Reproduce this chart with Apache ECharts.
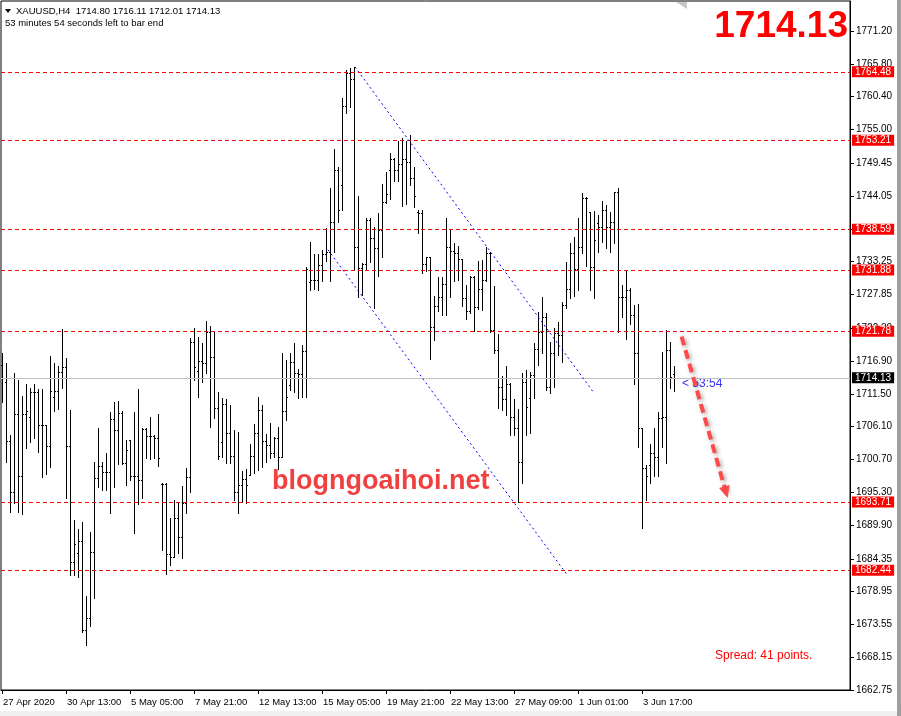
<!DOCTYPE html>
<html>
<head>
<meta charset="utf-8">
<title>XAUUSD H4</title>
<script src="https://cdn.jsdelivr.net/npm/echarts@6/dist/echarts.min.js"></script>
<style>
  html, body { margin: 0; padding: 0; background: #fff; }
  #chart { width: 901px; height: 716px; }
</style>
</head>
<body>
<div id="chart"></div>
<script>
// XAUUSD H4 bars, index 0 = 27 Apr 2020, last bar = 4 Jun 2020
const barOpen = [
  1716.2, 1713.4, 1703.7, 1695.3, 1708.2, 1698.0, 1708.2, 1707.7, 1711.8, 1711.8,
  1706.4, 1706.4, 1702.9, 1711.0, 1712.0, 1715.1, 1715.9, 1702.9, 1683.8, 1685.3,
  1687.3, 1672.6, 1674.6, 1685.5, 1697.6, 1699.6, 1698.6, 1698.6, 1707.3, 1705.5,
  1708.3, 1700.1, 1703.9, 1698.0, 1698.0, 1697.3, 1705.7, 1704.5, 1704.5, 1704.2,
  1696.6, 1696.6, 1685.1, 1684.6, 1691.1, 1687.9, 1693.5, 1697.8, 1720.0, 1715.2,
  1716.9, 1716.6, 1721.7, 1717.5, 1709.2, 1703.6, 1709.8, 1705.0, 1701.3, 1695.3,
  1696.5, 1697.5, 1698.1, 1701.3, 1705.0, 1708.8, 1703.7, 1703.1, 1701.7, 1704.2,
  1701.1, 1708.7, 1712.9, 1716.7, 1714.9, 1714.7, 1718.5, 1729.9, 1730.2, 1730.2,
  1732.7, 1734.5, 1734.8, 1739.8, 1748.3, 1745.9, 1758.9, 1764.3, 1763.3, 1735.6,
  1732.2, 1732.9, 1740.1, 1737.1, 1735.5, 1738.4, 1743.1, 1748.3, 1750.1, 1748.3,
  1749.3, 1750.1, 1749.6, 1747.0, 1741.4, 1741.2, 1732.9, 1734.0, 1722.5, 1725.9,
  1727.4, 1729.6, 1735.6, 1735.0, 1734.7, 1733.7, 1727.3, 1725.1, 1730.7, 1725.8,
  1728.7, 1730.2, 1734.7, 1722.0, 1718.7, 1712.6, 1710.6, 1713.1, 1707.7, 1705.9,
  1700.3, 1713.4, 1710.8, 1714.6, 1718.9, 1721.7, 1724.1, 1712.6, 1718.2, 1721.5,
  1721.2, 1726.1, 1728.7, 1734.7, 1732.0, 1735.6, 1743.7, 1741.4, 1732.4, 1739.6,
  1738.9, 1741.7, 1738.9, 1739.8, 1744.7, 1727.4, 1727.4, 1728.6, 1724.5, 1718.2,
  1705.9, 1699.3, 1699.8, 1701.7, 1701.1, 1707.5, 1707.7, 1718.7, 1714.80
];
const barHigh = [
  1718.2, 1716.6, 1704.7, 1714.9, 1713.8, 1711.1, 1713.1, 1712.5, 1713.1, 1712.3,
  1712.3, 1706.4, 1717.7, 1716.6, 1716.1, 1722.2, 1717.4, 1708.8, 1690.7, 1689.2,
  1690.4, 1678.2, 1688.7, 1700.3, 1705.9, 1700.3, 1701.7, 1708.5, 1710.1, 1710.3,
  1708.7, 1703.9, 1703.9, 1708.5, 1712.3, 1705.9, 1705.9, 1707.7, 1704.7, 1708.2,
  1696.8, 1696.8, 1691.1, 1694.0, 1693.7, 1696.3, 1699.3, 1720.7, 1722.3, 1720.8,
  1719.9, 1723.5, 1722.6, 1721.7, 1711.8, 1710.8, 1710.6, 1709.6, 1705.5, 1705.2,
  1698.8, 1699.1, 1703.2, 1706.5, 1711.0, 1709.6, 1704.9, 1706.7, 1704.4, 1706.0,
  1718.2, 1717.1, 1718.2, 1719.9, 1715.6, 1719.5, 1732.4, 1736.5, 1734.5, 1734.5,
  1735.2, 1738.8, 1745.4, 1751.8, 1748.8, 1760.2, 1764.8, 1765.1, 1765.3, 1744.0,
  1733.0, 1740.4, 1740.4, 1738.9, 1741.2, 1746.0, 1748.0, 1751.1, 1750.3, 1753.1,
  1753.6, 1753.1, 1754.1, 1748.8, 1741.7, 1741.7, 1734.0, 1734.0, 1727.6, 1730.7,
  1730.7, 1740.4, 1738.4, 1736.3, 1735.8, 1733.7, 1729.4, 1730.9, 1730.9, 1733.3,
  1733.5, 1735.6, 1734.8, 1729.2, 1721.3, 1714.4, 1716.1, 1713.3, 1710.6, 1709.0,
  1714.9, 1715.4, 1715.1, 1719.9, 1725.0, 1727.4, 1724.8, 1720.0, 1722.3, 1723.3,
  1726.6, 1733.2, 1736.3, 1737.3, 1740.4, 1744.5, 1743.9, 1741.4, 1741.6, 1740.9,
  1743.2, 1742.6, 1741.4, 1744.7, 1745.4, 1729.4, 1731.9, 1728.9, 1726.1, 1726.3,
  1705.9, 1699.8, 1703.2, 1705.9, 1708.5, 1718.4, 1722.0, 1720.0, 1716.11
];
const barLow = [
  1710.1, 1700.3, 1692.0, 1693.5, 1692.0, 1691.7, 1702.6, 1703.6, 1704.2, 1701.9,
  1697.8, 1698.3, 1699.4, 1708.7, 1709.0, 1712.5, 1694.3, 1681.7, 1681.7, 1681.4,
  1672.3, 1670.2, 1673.3, 1677.9, 1696.2, 1695.7, 1695.7, 1691.9, 1696.2, 1699.9,
  1699.9, 1696.5, 1697.3, 1688.6, 1693.4, 1694.3, 1700.9, 1700.8, 1700.9, 1699.6,
  1685.8, 1681.8, 1683.3, 1684.6, 1685.3, 1684.5, 1691.9, 1695.3, 1713.8, 1711.0,
  1713.4, 1714.9, 1706.0, 1707.5, 1700.8, 1701.1, 1700.1, 1700.1, 1694.0, 1691.9,
  1693.7, 1693.5, 1698.1, 1698.5, 1699.0, 1699.4, 1700.3, 1700.9, 1701.1, 1699.1,
  1701.1, 1707.2, 1712.1, 1711.8, 1710.8, 1711.0, 1711.0, 1728.6, 1728.7, 1728.6,
  1730.1, 1733.3, 1730.1, 1734.8, 1739.8, 1741.7, 1757.7, 1758.7, 1731.9, 1727.4,
  1727.7, 1731.9, 1733.2, 1725.6, 1730.9, 1734.0, 1742.9, 1743.6, 1746.5, 1746.5,
  1742.4, 1742.7, 1745.9, 1742.2, 1738.0, 1731.4, 1731.7, 1717.2, 1720.3, 1725.1,
  1724.5, 1724.5, 1727.4, 1730.1, 1730.2, 1725.9, 1723.8, 1724.8, 1721.8, 1725.4,
  1725.3, 1730.1, 1721.7, 1718.2, 1709.2, 1708.8, 1708.0, 1704.7, 1704.7, 1693.7,
  1696.8, 1704.7, 1705.0, 1710.8, 1716.2, 1718.2, 1712.1, 1711.6, 1712.6, 1717.9,
  1716.7, 1725.6, 1727.3, 1727.6, 1728.6, 1734.7, 1732.5, 1728.6, 1727.3, 1734.8,
  1736.5, 1735.5, 1734.8, 1736.3, 1721.7, 1724.1, 1720.5, 1723.0, 1713.1, 1702.7,
  1689.4, 1694.0, 1696.8, 1698.0, 1698.0, 1702.7, 1700.1, 1712.5, 1712.01
];
const barClose = [
  1714.1, 1703.7, 1695.3, 1708.2, 1698.0, 1708.2, 1708.7, 1711.8, 1711.8, 1706.4,
  1706.4, 1702.9, 1712.0, 1712.0, 1715.1, 1715.9, 1702.9, 1683.8, 1686.8, 1687.3,
  1672.6, 1674.6, 1685.5, 1697.6, 1699.6, 1698.6, 1698.6, 1707.3, 1705.5, 1708.3,
  1700.1, 1702.2, 1698.0, 1698.0, 1697.3, 1705.7, 1704.5, 1704.5, 1704.2, 1700.9,
  1696.6, 1685.1, 1684.6, 1691.1, 1687.9, 1693.5, 1697.8, 1720.0, 1715.9, 1716.9,
  1716.6, 1721.7, 1717.5, 1709.2, 1701.3, 1709.8, 1705.0, 1701.3, 1695.3, 1696.5,
  1697.5, 1696.5, 1701.3, 1705.0, 1708.8, 1703.7, 1703.1, 1701.7, 1704.2, 1701.1,
  1708.7, 1711.0, 1716.7, 1714.9, 1714.7, 1718.5, 1732.0, 1730.2, 1730.2, 1732.7,
  1734.5, 1734.8, 1739.8, 1748.3, 1741.7, 1758.9, 1764.3, 1763.3, 1735.6, 1732.2,
  1732.9, 1740.1, 1737.1, 1735.5, 1738.4, 1743.1, 1744.4, 1750.1, 1748.3, 1749.3,
  1750.1, 1749.6, 1747.0, 1744.0, 1741.2, 1732.9, 1734.0, 1722.5, 1725.9, 1727.4,
  1729.6, 1735.6, 1735.0, 1734.7, 1733.7, 1727.3, 1725.1, 1730.7, 1725.8, 1728.7,
  1730.2, 1734.7, 1722.0, 1718.7, 1712.6, 1710.6, 1713.1, 1707.7, 1705.9, 1700.3,
  1713.4, 1709.3, 1714.6, 1718.9, 1721.7, 1724.1, 1712.6, 1718.2, 1721.5, 1721.2,
  1726.1, 1728.7, 1734.7, 1732.0, 1735.6, 1743.7, 1743.7, 1732.4, 1736.8, 1738.9,
  1741.7, 1738.9, 1739.8, 1744.7, 1727.4, 1727.4, 1728.6, 1724.5, 1718.2, 1705.9,
  1699.3, 1698.0, 1701.7, 1701.1, 1707.5, 1707.7, 1718.7, 1714.3, 1714.13
];

const xLabelIndex = [0, 16, 32, 48, 64, 80, 96, 112, 128, 144, 160];
const xLabels = ['27 Apr 2020', '30 Apr 13:00', '5 May 05:00', '7 May 21:00', '12 May 13:00',
  '15 May 05:00', '19 May 21:00', '22 May 13:00', '27 May 09:00', '1 Jun 01:00', '3 Jun 17:00'];
const yTicks = [1662.75, 1668.15, 1673.55, 1678.95, 1684.35, 1689.90, 1695.30, 1700.70, 1706.10,
  1711.50, 1716.90, 1722.30, 1727.85, 1733.25, 1738.65, 1744.05, 1749.45, 1755.00, 1760.40,
  1765.80, 1771.20];

const levels = [1764.48, 1753.21, 1738.59, 1731.88, 1721.78, 1693.71, 1682.44];
const bidPrice = 1714.13;
const channelUpper = [[88.25, 1765.3], [147.8, 1711.8]];
const channelLower = [[81.5, 1735.2], [141.5, 1681.5]];
const arrowPath = [[169.9, 1720.9], [181.0, 1695.3]];

const FONT = 'Liberation Sans';

function renderBar(params, api) {
  const i = api.value(0);
  const o = api.coord([i, api.value(1)]);
  const h = api.coord([i, api.value(2)]);
  const l = api.coord([i, api.value(3)]);
  const c = api.coord([i, api.value(4)]);
  const x = Math.round(h[0]);
  const top = Math.round(h[1]);
  const bottom = Math.round(l[1]);
  const style = { fill: '#000' };
  return {
    type: 'group',
    children: [
      { type: 'rect', shape: { x: x, y: top, width: 1, height: Math.max(1, bottom - top + 1) }, style: style },
      { type: 'rect', shape: { x: x - 1, y: Math.round(o[1]), width: 1, height: 1 }, style: style },
      { type: 'rect', shape: { x: x + 1, y: Math.round(c[1]), width: 1, height: 1 }, style: style }
    ]
  };
}

const chart = echarts.init(document.getElementById('chart'), null, { renderer: 'canvas' });

const option = {
  animation: false,
  backgroundColor: '#fff',
  grid: {
    left: 1, top: 1, right: 51, bottom: 26,
    show: true, borderColor: '#000', borderWidth: 1
  },
  xAxis: {
    type: 'value',
    min: -0.25,
    max: 212,
    splitLine: { show: false },
    axisLine: { onZero: false, lineStyle: { color: '#000' } },
    axisTick: { customValues: xLabelIndex, length: 4, lineStyle: { color: '#000' } },
    axisLabel: {
      customValues: xLabelIndex,
      formatter: function (v) { return xLabels[xLabelIndex.indexOf(Math.round(v))] || ''; },
      align: 'left', margin: 7, padding: [0, 0, 0, 1],
      color: '#000', fontSize: 9.5, fontFamily: FONT
    }
  },
  yAxis: {
    type: 'value',
    position: 'right',
    min: 1662.75,
    max: 1776.14,
    splitLine: { show: false },
    axisLine: { show: true, onZero: false, lineStyle: { color: '#000' } },
    axisTick: { customValues: yTicks, length: 4, lineStyle: { color: '#000' } },
    axisLabel: {
      customValues: yTicks,
      formatter: function (v) { return v.toFixed(2); },
      margin: 6, color: '#000', fontSize: 10, fontFamily: FONT
    }
  },
  series: [
    {
      name: 'levels',
      type: 'line',
      data: [],
      z: 1,
      markLine: {
        silent: true, symbol: 'none', animation: false,
        lineStyle: { color: '#ff0000', type: [4, 3], width: 1 },
        label: {
          position: 'end', distance: 2,
          formatter: function (p) { return p.value.toFixed(2); },
          color: '#fff', backgroundColor: '#ff0000', padding: [1, 3, 0, 3],
          fontSize: 10, fontFamily: FONT
        },
        data: levels.map(function (v) { return { yAxis: v }; })
      }
    },
    {
      name: 'bid',
      type: 'line',
      data: [],
      z: 1,
      markLine: {
        silent: true, symbol: 'none', animation: false,
        lineStyle: { color: '#c0c0c0', type: 'solid', width: 1 },
        label: {
          position: 'end', distance: 2,
          formatter: function (p) { return p.value.toFixed(2); },
          color: '#fff', backgroundColor: '#000', padding: [1, 3, 0, 3],
          fontSize: 10, fontFamily: FONT
        },
        data: [{ yAxis: bidPrice }]
      }
    },
    {
      name: 'channel',
      type: 'line',
      data: [],
      z: 2,
      markLine: {
        silent: true, symbol: 'none', animation: false,
        label: { show: false },
        lineStyle: { color: '#0000ff', type: [2, 3], width: 1 },
        data: [
          [{ coord: channelUpper[0] }, { coord: channelUpper[1] }],
          [{ coord: channelLower[0] }, { coord: channelLower[1] }]
        ]
      }
    },
    {
      name: 'XAUUSD',
      type: 'custom',
      z: 3,
      renderItem: renderBar,
      encode: { x: 0, y: [1, 2, 3, 4] },
      data: barOpen.map(function (o, i) { return [i, o, barHigh[i], barLow[i], barClose[i]]; })
    },
    {
      name: 'arrow',
      type: 'line',
      data: [],
      z: 4,
      markLine: {
        silent: true, animation: false,
        symbol: ['none', 'triangle'], symbolSize: [11, 12],
        label: { show: false },
        lineStyle: {
          color: '#ff4a4a', type: [9, 5], width: 4,
          shadowBlur: 4, shadowColor: 'rgba(0,0,0,0.35)', shadowOffsetX: 2, shadowOffsetY: 2
        },
        data: [[{ coord: arrowPath[0] }, { coord: arrowPath[1] }]]
      }
    }
  ],
  graphic: [
    { type: 'rect', shape: { x: 0, y: 711, width: 901, height: 5 }, style: { fill: '#f0f0f0' }, z: -1 },
    { type: 'rect', shape: { x: 897, y: 0, width: 4, height: 716 }, style: { fill: '#a0a0a0' }, z: -1 },
    { type: 'polygon', shape: { points: [[5, 9], [11, 9], [8, 13]] }, style: { fill: '#000' } },
    { type: 'text', x: 16, y: 6, style: { text: 'XAUUSD,H4  1714.80 1716.11 1712.01 1714.13', fill: '#000', font: '9.5px "Liberation Sans"' } },
    { type: 'text', x: 5, y: 18, style: { text: '53 minutes 54 seconds left to bar end', fill: '#000', font: '9.5px "Liberation Sans"' } },
    { type: 'text', x: 848, y: 8, style: { text: '1714.13', fill: '#ff0000', align: 'right', font: 'bold 37px "Liberation Sans"' } },
    {
      type: 'text', x: 272, y: 468, z: 10,
      style: {
        text: 'blogngoaihoi.net', fill: '#f04040', font: 'bold 27px "Liberation Sans"',
        shadowBlur: 4, shadowColor: 'rgba(0,0,0,0.4)', shadowOffsetX: 2, shadowOffsetY: 2
      }
    },
    { type: 'text', x: 682, y: 378, style: { text: '< 53:54', fill: '#3333ff', font: '12px "Liberation Sans"' } },
    { type: 'text', x: 715, y: 650, style: { text: 'Spread: 41 points.', fill: '#ff0000', font: '12px "Liberation Sans"' } },
    { type: 'polygon', shape: { points: [[676, 2], [687, 2], [687, 9]] }, style: { fill: '#c8c8c8' } }
  ]
};

chart.setOption(option);
</script>
</body>
</html>
